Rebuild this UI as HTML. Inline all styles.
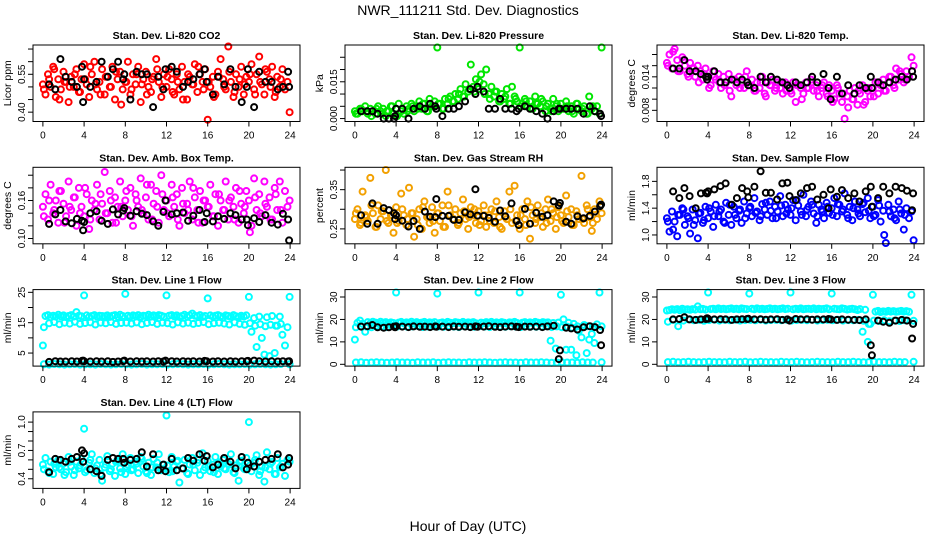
<!DOCTYPE html>
<html><head><meta charset="utf-8"><title>NWR_111211 Std. Dev. Diagnostics</title>
<style>
html,body{margin:0;padding:0;background:#fff;}
svg{display:block;font-family:"Liberation Sans",Arial,sans-serif;}
</style></head>
<body>
<svg id="fig" width="936" height="540" viewBox="0 0 936 540" xmlns="http://www.w3.org/2000/svg">
<rect x="0" y="0" width="936" height="540" fill="#fff"/>
<text x="468" y="15" text-anchor="middle" font-size="14">NWR_111211  Std. Dev. Diagnostics</text>
<text x="468" y="531" text-anchor="middle" font-size="14">Hour of Day (UTC)</text>
</svg>
<script>
const xTicks=[0,4,8,12,16,20,24];
const h96=[0,.25,.5,.75,1,1.25,1.5,1.75,2,2.25,2.5,2.75,3,3.25,3.5,3.75,4,4.25,4.5,4.75,5,5.25,5.5,5.75,6,6.25,6.5,6.75,7,7.25,7.5,7.75,8,8.25,8.5,8.75,9,9.25,9.5,9.75,10,10.25,10.5,10.75,11,11.25,11.5,11.75,12,12.25,12.5,12.75,13,13.25,13.5,13.75,14,14.25,14.5,14.75,15,15.25,15.5,15.75,16,16.25,16.5,16.75,17,17.25,17.5,17.75,18,18.25,18.5,18.75,19,19.25,19.5,19.75,20,20.25,20.5,20.75,21,21.25,21.5,21.75,22,22.25,22.5,22.75,23,23.25,23.5,23.75];
const h48=[0.1,0.6,1.1,1.6,2.1,2.6,3.1,3.6,4.1,4.6,5.1,5.6,6.1,6.6,7.1,7.6,8.1,8.6,9.1,9.6,10.1,10.6,11.1,11.6,12.1,12.6,13.1,13.6,14.1,14.6,15.1,15.6,16.1,16.6,17.1,17.6,18.1,18.6,19.1,19.6,20.1,20.6,21.1,21.6,22.1,22.6,23.1,23.95];
const hBlack=[0.6,1.2,1.7,2.2,2.8,3.3,3.8,3.9,4.0,4.6,5.2,5.7,6.3,6.8,7.3,7.8,7.9,8.5,9.1,9.6,10.1,10.7,11.2,11.7,11.9,12.5,13.0,13.6,14.1,14.6,15.2,15.7,15.9,16.5,17.0,17.6,18.2,18.7,19.3,19.8,19.9,20.5,21.0,21.6,22.2,22.8,23.3,23.8,23.9];

const co2A=[0.51,0.47,0.55,0.50,0.58,0.46,0.53,0.49,0.56,0.52,0.44,0.54,0.50,0.57,0.48,0.53,0.59,0.51,0.46,0.55,0.60,0.49,0.52,0.57,0.47,0.54,0.50,0.58,0.45,0.53,0.56,0.49,0.52,0.60,0.47,0.55,0.51,0.58,0.44,0.53,0.56,0.50,0.48,0.54,0.61,0.52,0.46,0.55,0.50,0.57,0.53,0.47,0.55,0.49,0.58,0.52,0.45,0.54,0.51,0.59,0.48,0.55,0.52,0.57,0.37,0.50,0.54,0.47,0.56,0.61,0.53,0.49,0.66,0.52,0.46,0.55,0.50,0.58,0.47,0.54,0.52,0.59,0.49,0.55,0.62,0.51,0.47,0.56,0.53,0.58,0.46,0.54,0.50,0.57,0.49,0.52];
const co2B=[0.49,0.53,0.57,0.45,0.52,0.50,0.55,0.48,0.53,0.58,0.51,0.47,0.54,0.50,0.56,0.43,0.52,0.49,0.55,0.51,0.47,0.53,0.57,0.50,0.54,0.48,0.52,0.45,0.55,0.51,0.58,0.49,0.52,0.46,0.54,0.50,0.56,0.48,0.53,0.51,0.55,0.47,0.52,0.57,0.50,0.48,0.53,0.40];
const co2K=[0.51,0.49,0.61,0.54,0.52,0.50,0.58,0.44,0.53,0.50,0.52,0.60,0.54,0.57,0.60,0.53,0.55,0.45,0.56,0.55,0.55,0.42,0.54,0.49,0.57,0.58,0.56,0.50,0.52,0.53,0.55,0.57,0.52,0.47,0.54,0.51,0.57,0.50,0.44,0.50,0.57,0.42,0.56,0.52,0.52,0.49,0.50,0.56,0.50];

const presA=[0.003,0.002,0.004,0.003,0.005,0.002,0.004,0.003,0.002,0.005,0.003,0.004,0.001,0.003,0.005,0.002,0.004,0.006,0.003,0.002,0.005,0.004,0.006,0.003,0.005,0.007,0.004,0.006,0.003,0.008,0.005,0.007,0.029,0.006,0.004,0.008,0.006,0.009,0.007,0.010,0.008,0.012,0.009,0.014,0.011,0.022,0.013,0.016,0.012,0.018,0.014,0.020,0.010,0.013,0.009,0.011,0.007,0.010,0.008,0.012,0.006,0.013,0.009,0.007,0.029,0.006,0.008,0.005,0.007,0.004,0.009,0.006,0.005,0.007,0.003,0.006,0.004,0.008,0.005,0.003,0.006,0.004,0.007,0.003,0.005,0.002,0.006,0.004,0.003,0.005,0.002,0.009,0.004,0.003,0.005,0.002];
const presB=[0.002,0.004,0.003,0.001,0.004,0.002,0.003,0.005,0.001,0.004,0.003,0.005,0.004,0.006,0.003,0.005,0.006,0.004,0.008,0.007,0.010,0.009,0.012,0.011,0.015,0.010,0.008,0.011,0.007,0.009,0.006,0.008,0.005,0.007,0.004,0.006,0.008,0.005,0.003,0.006,0.004,0.005,0.003,0.006,0.004,0.002,0.005,0.029];
const presK=[0.003,0.003,0.003,0.002,0.000,0.000,0.000,0.001,0.004,0.004,0.000,0.004,0.005,0.004,0.006,0.005,0.004,0.001,0.004,0.004,0.005,0.007,0.012,0.010,0.013,0.011,0.004,0.004,0.008,0.004,0.004,0.003,0.004,0.005,0.004,0.003,0.002,0.000,0.003,0.004,0.004,0.004,0.004,0.004,0.002,0.005,0.003,0.002,0.001];

const tempA=[0.0165,0.0180,0.0155,0.0190,0.0170,0.0150,0.0175,0.0160,0.0145,0.0165,0.0155,0.0140,0.0160,0.0150,0.0135,0.0155,0.0140,0.0125,0.0150,0.0135,0.0145,0.0120,0.0140,0.0130,0.0145,0.0105,0.0135,0.0125,0.0140,0.0130,0.0120,0.0150,0.0125,0.0135,0.0115,0.0130,0.0120,0.0140,0.0110,0.0130,0.0125,0.0135,0.0115,0.0130,0.0120,0.0110,0.0130,0.0125,0.0115,0.0130,0.0095,0.0125,0.0120,0.0110,0.0130,0.0120,0.0135,0.0115,0.0125,0.0105,0.0120,0.0130,0.0110,0.0125,0.0115,0.0100,0.0125,0.0110,0.0095,0.0065,0.0105,0.0115,0.0100,0.0120,0.0090,0.0110,0.0125,0.0095,0.0115,0.0105,0.0120,0.0130,0.0110,0.0125,0.0135,0.0115,0.0130,0.0140,0.0125,0.0155,0.0135,0.0145,0.0130,0.0150,0.0140,0.0175];
const tempB=[0.0160,0.0185,0.0150,0.0170,0.0140,0.0155,0.0130,0.0145,0.0120,0.0140,0.0130,0.0125,0.0115,0.0135,0.0120,0.0140,0.0125,0.0115,0.0130,0.0105,0.0125,0.0120,0.0130,0.0115,0.0110,0.0125,0.0100,0.0120,0.0130,0.0115,0.0125,0.0105,0.0095,0.0120,0.0110,0.0085,0.0100,0.0115,0.0090,0.0120,0.0105,0.0130,0.0115,0.0140,0.0120,0.0150,0.0135,0.0160];
const tempK=[0.0155,0.0155,0.0170,0.0150,0.0150,0.0145,0.0140,0.0135,0.0140,0.0150,0.0130,0.0130,0.0135,0.0130,0.0135,0.0130,0.0125,0.0120,0.0140,0.0130,0.0140,0.0135,0.0130,0.0125,0.0120,0.0130,0.0125,0.0130,0.0140,0.0130,0.0145,0.0120,0.0100,0.0140,0.0110,0.0125,0.0110,0.0125,0.0120,0.0140,0.0120,0.0130,0.0125,0.0130,0.0135,0.0140,0.0135,0.0150,0.0140];

const ambA=[0.150,0.170,0.130,0.185,0.140,0.160,0.125,0.175,0.155,0.135,0.190,0.145,0.165,0.120,0.180,0.150,0.135,0.170,0.115,0.160,0.145,0.185,0.130,0.155,0.205,0.140,0.175,0.125,0.165,0.150,0.190,0.135,0.160,0.145,0.180,0.120,0.170,0.150,0.195,0.140,0.165,0.130,0.185,0.155,0.175,0.125,0.200,0.145,0.160,0.135,0.185,0.150,0.170,0.120,0.180,0.140,0.155,0.190,0.130,0.165,0.145,0.175,0.125,0.160,0.150,0.185,0.135,0.170,0.120,0.160,0.145,0.190,0.130,0.165,0.150,0.180,0.125,0.155,0.140,0.175,0.160,0.120,0.195,0.145,0.170,0.135,0.190,0.150,0.165,0.130,0.180,0.145,0.190,0.125,0.175,0.150];
const ambB=[0.135,0.160,0.145,0.175,0.125,0.150,0.165,0.140,0.180,0.130,0.155,0.170,0.140,0.160,0.125,0.150,0.175,0.135,0.160,0.145,0.185,0.130,0.150,0.170,0.140,0.165,0.130,0.155,0.145,0.180,0.125,0.160,0.150,0.135,0.170,0.145,0.160,0.130,0.175,0.150,0.110,0.165,0.140,0.155,0.130,0.170,0.145,0.160];
const ambK=[0.123,0.138,0.145,0.127,0.124,0.131,0.128,0.113,0.126,0.140,0.143,0.128,0.123,0.146,0.138,0.144,0.148,0.136,0.143,0.139,0.137,0.127,0.120,0.142,0.160,0.138,0.140,0.141,0.128,0.136,0.145,0.126,0.140,0.127,0.135,0.131,0.140,0.137,0.130,0.130,0.121,0.132,0.126,0.137,0.125,0.122,0.139,0.130,0.097];

const rhA=[0.275,0.300,0.260,0.345,0.285,0.270,0.380,0.290,0.255,0.310,0.275,0.295,0.400,0.265,0.285,0.240,0.305,0.270,0.340,0.285,0.260,0.355,0.290,0.230,0.275,0.300,0.250,0.320,0.280,0.265,0.305,0.240,0.290,0.270,0.310,0.255,0.345,0.285,0.275,0.300,0.260,0.290,0.325,0.275,0.250,0.305,0.285,0.265,0.295,0.270,0.310,0.255,0.285,0.300,0.265,0.320,0.280,0.250,0.295,0.275,0.345,0.265,0.360,0.285,0.250,0.300,0.275,0.320,0.225,0.285,0.265,0.310,0.280,0.255,0.300,0.325,0.270,0.290,0.250,0.305,0.285,0.265,0.335,0.280,0.300,0.260,0.295,0.275,0.385,0.265,0.310,0.280,0.245,0.300,0.275,0.320];
const rhB=[0.290,0.265,0.280,0.310,0.255,0.295,0.270,0.285,0.265,0.300,0.275,0.290,0.260,0.305,0.280,0.270,0.290,0.255,0.310,0.275,0.265,0.295,0.280,0.300,0.260,0.285,0.270,0.295,0.255,0.280,0.300,0.270,0.285,0.260,0.305,0.275,0.290,0.265,0.300,0.280,0.270,0.295,0.260,0.285,0.275,0.300,0.265,0.290];
const rhK=[0.285,0.263,0.315,0.263,0.303,0.298,0.290,0.275,0.285,0.271,0.256,0.270,0.250,0.294,0.281,0.280,0.326,0.283,0.283,0.273,0.273,0.292,0.287,0.351,0.284,0.283,0.278,0.268,0.297,0.282,0.315,0.270,0.260,0.301,0.263,0.291,0.281,0.285,0.320,0.310,0.316,0.268,0.263,0.282,0.277,0.283,0.294,0.308,0.312];

const flowA=[1.25,1.05,1.35,1.20,0.98,1.30,1.40,1.15,1.28,1.02,1.38,1.22,0.95,1.33,1.18,1.42,1.25,1.35,1.12,1.45,1.28,1.38,1.20,1.48,1.30,1.15,1.42,1.25,1.36,1.18,1.50,1.32,1.40,1.28,1.55,1.35,1.22,1.46,1.38,1.30,1.50,1.25,1.42,1.35,1.58,1.28,1.45,1.38,1.30,1.52,1.22,1.44,1.35,1.60,1.28,1.42,1.50,1.32,1.18,1.45,1.38,1.25,1.48,1.33,1.40,1.55,1.28,1.45,1.35,1.62,1.30,1.42,1.22,1.50,1.38,1.28,1.46,1.34,1.55,1.25,1.42,1.30,1.52,1.20,1.36,0.88,1.45,1.28,1.38,1.22,1.50,1.32,1.08,1.40,1.25,1.35];
const flowB=[1.20,1.08,1.30,1.38,1.25,1.15,1.32,1.22,1.40,1.28,1.35,1.18,1.45,1.30,1.38,1.25,1.42,1.33,1.28,1.48,1.36,1.25,1.44,1.32,1.40,1.52,1.30,1.38,1.45,1.28,1.35,1.42,1.30,1.46,1.38,1.25,1.40,1.32,1.48,1.36,1.28,1.44,1.00,1.35,1.25,1.38,1.30,0.92];
const flowK=[1.65,1.55,1.70,1.58,1.40,1.62,1.63,1.62,1.65,1.68,1.73,1.77,1.45,1.55,1.70,1.65,1.56,1.72,1.95,1.63,1.63,1.53,1.77,1.78,1.58,1.52,1.62,1.70,1.72,1.53,1.60,1.40,1.68,1.57,1.67,1.55,1.62,1.50,1.65,1.72,1.42,1.55,1.72,1.62,1.72,1.70,1.66,1.37,1.62];

const l1A=[7.5,17.2,17.5,16.8,17.3,17.0,17.6,17.1,17.4,16.9,17.2,17.5,17.0,18.5,17.3,17.1,24.0,17.4,16.9,17.2,17.5,17.0,17.3,17.2,17.1,17.4,16.9,17.3,17.5,17.0,17.6,17.2,24.5,17.3,17.0,17.4,17.1,17.5,16.9,17.3,17.2,17.6,17.0,17.4,17.1,17.5,17.3,17.0,24.0,17.3,17.5,17.1,17.4,16.9,17.2,17.6,17.0,17.4,18.0,17.3,17.1,17.5,16.9,17.2,23.0,17.4,17.0,17.3,17.5,17.1,16.8,17.4,17.2,17.0,17.5,17.1,16.9,17.3,17.0,17.4,23.5,12.0,16.5,7.0,17.0,10.0,4.5,16.8,4.0,17.2,5.0,14.0,17.0,11.0,7.5,13.5];
const l1B=[13.5,14.8,15.2,14.5,15.0,14.7,15.3,14.6,14.9,15.1,14.4,15.0,14.8,15.2,14.6,14.9,15.0,14.7,15.1,14.5,14.9,15.2,14.6,15.0,14.8,14.4,15.1,14.7,15.0,14.6,14.9,15.2,14.5,14.8,15.0,14.7,14.4,15.1,14.6,14.3,14.8,14.0,14.5,13.8,14.3,14.0,14.6,23.5];
const l1C=[1.3,1.2,1.4,1.3,1.2,1.3,1.4,1.2,1.3,1.3,1.2,1.4,1.3,1.2,1.3,1.4,1.3,1.2,1.3,1.4,1.2,1.3,1.3,1.4,1.2,1.3,1.4,1.3,1.2,1.3,1.3,1.4,1.2,1.3,1.4,1.3,1.2,1.3,1.3,1.4,1.2,1.3,1.4,1.3,1.2,1.3,1.4,1.3];
const l1K=[2.1,2.3,2.2,2.2,2.3,2.2,2.4,2.5,2.3,2.2,2.3,2.2,2.3,2.1,2.2,2.3,2.5,2.2,2.3,2.2,2.3,2.2,2.3,2.2,2.5,2.3,2.2,2.3,2.2,2.3,2.2,2.4,2.3,2.2,2.3,2.2,2.3,2.2,2.3,2.3,2.4,2.5,2.3,2.2,2.3,2.2,2.3,2.2,2.3];

const l2A=[11.0,18.5,19.5,18.0,14.5,18.8,18.2,19.0,18.6,18.3,19.0,18.5,18.8,18.2,18.7,18.4,32.0,18.6,18.9,18.3,18.7,18.5,19.0,18.2,18.8,18.4,18.6,18.9,18.3,18.7,18.5,18.8,31.5,18.4,18.7,18.2,18.9,18.5,18.3,18.8,18.6,18.4,18.9,18.2,18.7,18.5,18.8,18.3,32.0,18.6,18.4,18.8,18.5,18.9,18.3,18.7,18.4,18.8,18.5,18.2,18.7,18.6,18.9,18.4,32.0,18.5,18.8,18.3,18.7,18.4,18.9,18.6,18.3,18.8,18.5,18.7,10.5,18.4,7.0,18.6,31.0,20.0,6.5,18.5,6.5,18.0,4.0,15.0,12.0,17.5,5.0,11.0,13.5,9.5,17.8,32.0];
const l2B=[16.5,17.0,16.8,16.5,17.2,16.9,16.6,17.1,16.8,17.0,16.7,16.9,17.1,16.6,16.8,17.0,16.9,16.7,17.1,16.8,16.6,17.0,16.9,16.7,17.0,16.8,16.6,17.1,16.9,16.7,17.0,16.8,16.6,17.1,16.9,16.7,16.8,17.0,16.6,16.9,16.5,16.8,16.3,16.9,16.6,17.0,16.7,16.9];
const l2C=[0.8,0.9,0.7,0.8,0.9,0.8,0.7,0.8,0.9,0.8,0.8,0.7,0.9,0.8,0.8,0.9,0.7,0.8,0.9,0.8,0.8,0.7,0.9,0.8,0.8,0.9,0.8,0.7,0.8,0.9,0.8,0.8,0.7,0.9,0.8,0.8,0.9,0.8,0.7,0.8,0.9,0.8,0.8,0.7,0.9,0.8,0.8,0.9];
const l2K=[16.8,17.0,17.5,16.5,16.3,16.5,16.8,16.5,17.0,16.8,16.6,16.9,16.7,16.8,16.6,16.9,16.7,16.8,16.6,16.9,16.7,16.8,16.6,16.9,16.7,16.8,17.0,16.7,16.6,16.8,16.9,16.7,16.6,16.8,16.7,16.8,16.6,16.9,17.2,2.3,6.2,16.3,16.0,15.5,16.5,17.0,16.6,15.3,8.5];

const l3A=[24.0,24.2,24.5,24.3,24.6,24.1,24.8,24.4,24.5,24.3,24.6,24.4,25.8,24.5,24.7,24.4,32.0,24.6,24.8,24.5,24.9,24.6,24.8,24.5,24.7,24.9,24.6,24.8,24.5,24.9,24.7,24.6,31.5,24.8,24.5,24.9,24.6,24.8,24.5,24.7,24.9,24.6,24.8,24.5,24.7,24.9,24.6,24.8,32.0,24.5,24.8,24.6,24.9,24.5,24.7,24.8,24.6,24.9,24.5,24.8,24.6,24.7,24.9,24.5,31.5,24.8,24.6,24.5,24.9,24.7,24.4,24.6,24.8,24.5,24.2,24.6,14.5,24.3,10.0,18.0,31.0,23.5,23.8,23.3,23.6,23.4,23.8,23.5,23.7,23.4,23.6,23.8,23.5,23.7,23.4,31.0];
const l3B=[19.0,19.8,17.0,19.5,20.0,19.6,19.8,19.4,19.7,19.9,19.5,19.8,19.6,19.9,19.5,19.7,19.8,19.6,19.9,19.5,19.7,19.8,19.6,19.9,19.5,19.7,19.8,19.6,19.9,19.5,19.7,19.8,19.6,19.9,19.5,19.7,19.6,19.8,19.4,18.0,19.5,19.3,19.6,19.2,19.5,19.3,19.6,19.4];
const l3C=[1.0,1.1,0.9,1.0,1.1,1.0,0.9,1.0,1.1,1.0,1.0,0.9,1.1,1.0,1.0,1.1,0.9,1.0,1.1,1.0,1.0,0.9,1.1,1.0,1.0,1.1,1.0,0.9,1.0,1.1,1.0,1.0,0.9,1.1,1.0,1.0,1.1,1.0,0.9,1.0,1.1,1.0,1.0,0.9,1.1,1.0,1.0,1.1];
const l3K=[20.0,20.2,21.0,20.0,19.8,20.0,20.2,20.5,20.3,20.0,20.1,20.0,19.8,20.0,20.1,20.2,20.3,20.0,20.1,19.9,20.0,20.1,19.8,20.0,19.5,20.2,20.0,20.1,19.9,20.0,20.0,20.2,20.0,19.8,20.0,19.9,19.8,19.7,20.0,8.5,4.0,19.5,19.0,18.5,19.5,19.8,19.5,11.5,18.0];

const l4A=[0.55,0.62,0.48,0.58,0.45,0.52,0.60,0.50,0.56,0.47,0.63,0.53,0.44,0.58,0.51,0.61,0.93,0.49,0.57,0.66,0.46,0.54,0.60,0.38,0.52,0.64,0.48,0.56,0.43,0.59,0.51,0.66,0.45,0.55,0.62,0.50,0.58,0.46,0.63,0.53,0.48,0.57,0.44,0.61,0.52,0.66,0.49,0.55,1.07,0.47,0.63,0.53,0.58,0.36,0.51,0.60,0.46,0.55,0.62,0.49,0.57,0.44,0.67,0.52,0.59,0.48,0.55,0.63,0.45,0.53,0.60,0.50,0.56,0.66,0.47,0.54,0.38,0.59,0.51,0.62,1.00,0.48,0.57,0.65,0.44,0.53,0.37,0.68,0.50,0.58,0.45,0.62,0.52,0.56,0.43,0.60];
const l4B=[0.50,0.46,0.56,0.52,0.44,0.58,0.49,0.54,0.47,0.60,0.51,0.45,0.55,0.50,0.58,0.47,0.53,0.49,0.56,0.61,0.46,0.52,0.57,0.50,0.54,0.48,0.59,0.51,0.45,0.55,0.60,0.49,0.53,0.47,0.57,0.51,0.55,0.46,0.58,0.50,0.54,0.60,0.48,0.52,0.56,0.45,0.53,0.58];
const l4K=[0.47,0.61,0.60,0.58,0.61,0.63,0.70,0.58,0.67,0.50,0.48,0.43,0.60,0.62,0.61,0.61,0.57,0.60,0.61,0.68,0.53,0.66,0.49,0.55,0.48,0.61,0.49,0.51,0.62,0.59,0.66,0.59,0.64,0.52,0.55,0.62,0.58,0.51,0.63,0.50,0.57,0.53,0.58,0.60,0.61,0.66,0.52,0.55,0.62];

const panels=[
 {id:'co2',title:'Stan. Dev. Li-820 CO2',ylab:'Licor ppm',col:0,row:0,lo:0.363,hi:0.666,ticks:[0.40,0.45,0.50,0.55,0.60,0.65],labels:['0.40','','','0.55','',''],color:'#ff0000',series:[[h96,co2A],[h48,co2B]],black:co2K},
 {id:'pressure',title:'Stan. Dev. Li-820 Pressure',ylab:'kPa',col:1,row:0,lo:-0.0012,hi:0.0300,ticks:[0,0.005,0.010,0.015,0.020,0.025],labels:['0.000','','','0.015','',''],color:'#00e600',series:[[h96,presA],[h48,presB]],black:presK},
 {id:'temp',title:'Stan. Dev. Li-820 Temp.',ylab:'degrees C',col:2,row:0,lo:0.0060,hi:0.0197,ticks:[0.008,0.010,0.012,0.014,0.016,0.018],labels:['0.008','','','0.014','',''],color:'#ff00ff',series:[[h96,tempA],[h48,tempB]],black:tempK},
 {id:'amb-box-temp',title:'Stan. Dev. Amb. Box Temp.',ylab:'degrees C',col:0,row:1,lo:0.0916,hi:0.2125,ticks:[0.10,0.12,0.14,0.16,0.18,0.20],labels:['0.10','','','0.16','',''],color:'#ff00ff',series:[[h96,ambA],[h48,ambB]],black:ambK},
 {id:'gas-stream-rh',title:'Stan. Dev. Gas Stream RH',ylab:'percent',col:1,row:1,lo:0.212,hi:0.407,ticks:[0.25,0.30,0.35,0.40],labels:['0.25','','0.35',''],color:'#f2a000',series:[[h96,rhA],[h48,rhB]],black:rhK},
 {id:'sample-flow',title:'Stan. Dev. Sample Flow',ylab:'ml/min',col:2,row:1,lo:0.868,hi:2.01,ticks:[1.0,1.2,1.4,1.6,1.8],labels:['1.0','','1.4','','1.8'],color:'#0000ff',series:[[h96,flowA],[h48,flowB]],black:flowK},
 {id:'line1-flow',title:'Stan. Dev. Line 1 Flow',ylab:'ml/min',col:0,row:2,lo:0.7,hi:25.9,ticks:[5,10,15,20,25],labels:['5','','15','','25'],color:'#00ffff',series:[[h96,l1A],[h48,l1B],[h48,l1C]],black:l1K},
 {id:'line2-flow',title:'Stan. Dev. Line 2 Flow',ylab:'ml/min',col:1,row:2,lo:-0.8,hi:33.3,ticks:[0,10,20,30],labels:['0','10','20','30'],color:'#00ffff',series:[[h96,l2A],[h48,l2B],[h48,l2C]],black:l2K},
 {id:'line3-flow',title:'Stan. Dev. Line 3 Flow',ylab:'ml/min',col:2,row:2,lo:-0.8,hi:33.3,ticks:[0,10,20,30],labels:['0','10','20','30'],color:'#00ffff',series:[[h96,l3A],[h48,l3B],[h48,l3C]],black:l3K},
 {id:'line4-flow',title:'Stan. Dev. Line 4 (LT) Flow',ylab:'ml/min',col:0,row:3,lo:0.298,hi:1.108,ticks:[0.4,0.5,0.6,0.7,0.8,0.9,1.0],labels:['0.4','','','0.7','','','1.0'],color:'#00ffff',series:[[h96,l4A],[h48,l4B]],black:l4K}
];

const NS='http://www.w3.org/2000/svg';
const svg=document.getElementById('fig');
function mk(tag,attrs,parent){const e=document.createElementNS(NS,tag);for(const k in attrs)e.setAttribute(k,attrs[k]);parent.appendChild(e);return e;}

panels.forEach(p=>{
  const L=33+312*p.col, T=45+122.3*p.row, W=267, H=76.5;
  const xs=h=>L+(h+0.96)/25.92*W;
  const ys=v=>T+H-(v-p.lo)/(p.hi-p.lo)*H;
  const g=mk('g',{},svg);
  
  
  const t=mk('text',{x:L+W/2,y:T-6,'text-anchor':'middle','font-size':'10.5','font-weight':'bold'},g);
  t.textContent=p.title;
  
  
  const yl=mk('text',{x:0,y:0,'text-anchor':'middle','font-size':'10.5',transform:`translate(${L-22},${T+H/2}) rotate(-90)`},g);
  yl.textContent=p.ylab;
  
  
  const pts=mk('g',{fill:'none','stroke-width':'2'},g);
  
  
  p.series.forEach(([hs,vs])=>{
    const n=Math.min(hs.length,vs.length);
    for(let i=0;i<n;i++){
      const c=mk('circle',{cx:xs(hs[i]).toFixed(1),cy:ys(vs[i]).toFixed(1),r:'3',stroke:p.color},pts);
      
      
    }
  });
  const nb=Math.min(hBlack.length,p.black.length);
  for(let i=0;i<nb;i++){
    const c=mk('circle',{cx:xs(hBlack[i]).toFixed(1),cy:ys(p.black[i]).toFixed(1),r:'3',stroke:'#000'},pts);
    
    
  }
  const b=mk('rect',{x:L,y:T,width:W,height:H,fill:'none',stroke:'#000','stroke-width':'1'},g);
  
  
  const xa=mk('g',{stroke:'#000','stroke-width':'1'},g);
  
  
  xTicks.forEach(v=>{
    mk('line',{x1:xs(v),x2:xs(v),y1:T+H,y2:T+H+5},xa);
    const tl=mk('text',{x:xs(v),y:T+H+17,'text-anchor':'middle','font-size':'10','stroke':'none',fill:'#000'},xa);
    tl.textContent=String(v);
    
    
  });
  const ya=mk('g',{stroke:'#000','stroke-width':'1'},g);
  
  
  p.ticks.forEach((v,i)=>{
    const y=ys(v);
    mk('line',{x1:L-5,x2:L,y1:y,y2:y},ya);
    if(p.labels[i]){
      const tl=mk('text',{x:0,y:0,'text-anchor':'middle','font-size':'10','stroke':'none',fill:'#000',transform:`translate(${L-8},${y}) rotate(-90)`},ya);
      tl.textContent=p.labels[i];
      
      
    }
  });
});
</script>
</body></html>
